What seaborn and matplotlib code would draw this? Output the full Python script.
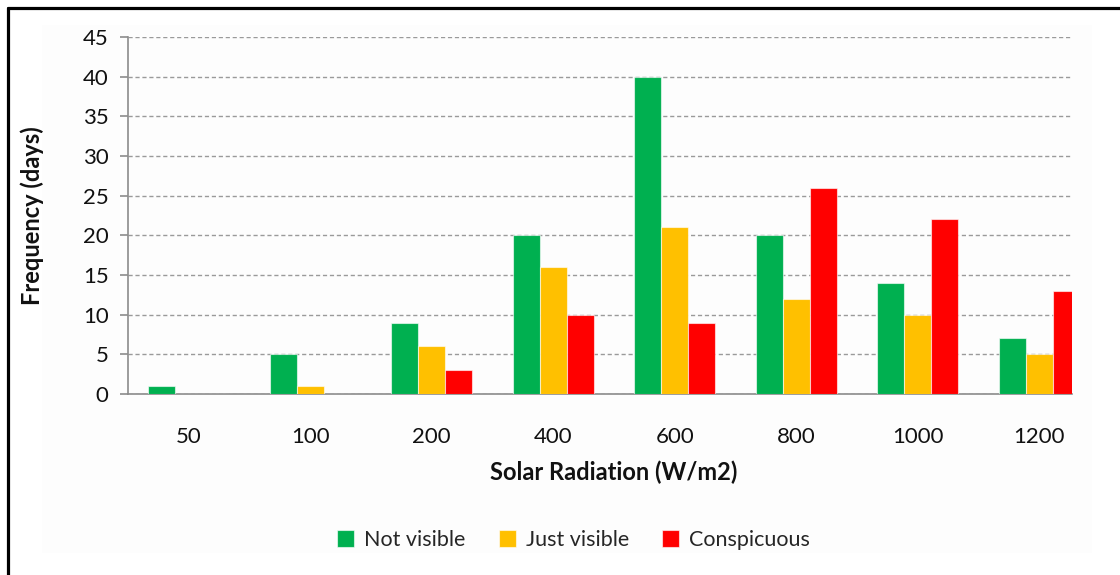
import matplotlib
matplotlib.use("Agg")
import matplotlib.pyplot as plt
import seaborn as sns
import pandas as pd
from matplotlib.lines import Line2D
from matplotlib.patches import Rectangle
from matplotlib.ticker import FixedLocator, MultipleLocator

categories = ["50", "100", "200", "400", "600", "800", "1000", "1200"]
not_visible = [1, 5, 9, 20, 40, 20, 14, 7]
just_visible = [0, 1, 6, 16, 21, 12, 10, 5]
conspicuous = [0, 0, 3, 10, 9, 26, 22, 13]
series_names = ["Not visible", "Just visible", "Conspicuous"]
colors = ["#00B050", "#FFC000", "#FF0000"]

rows = []
for name, vals in zip(series_names, [not_visible, just_visible, conspicuous]):
    for c, v in zip(categories, vals):
        rows.append({"Solar Radiation": c, "Frequency": v, "Series": name})
df = pd.DataFrame(rows)

sns.set_style("white")
plt.rcParams["font.family"] = ["Lato", "DejaVu Sans"]

fig = plt.figure(figsize=(11.2, 5.75), dpi=100)
fig.patch.set_facecolor("white")
# very subtle chart-area background
fig.add_artist(Rectangle((42 / 1120, 1 - 553 / 575), (1092 - 42) / 1120, (553 - 25) / 575,
                         transform=fig.transFigure, facecolor="#fdfdfd", edgecolor="none", zorder=0))
# black border lines (top and left)
fig.add_artist(Line2D([8 / 1120, 1.0], [1 - 8 / 575, 1 - 8 / 575], transform=fig.transFigure,
                      color="black", linewidth=2.3))
fig.add_artist(Line2D([8 / 1120, 8 / 1120], [0, 1 - 8 / 575], transform=fig.transFigure,
                      color="black", linewidth=2.3))

ax = fig.add_axes([128 / 1120, 1 - 394 / 575, (1072 - 128) / 1120, (394 - 37) / 575])
ax.set_facecolor("none")

sns.barplot(data=df, x="Solar Radiation", y="Frequency", hue="Series",
            order=categories, hue_order=series_names, palette=colors, saturation=1,
            width=0.667, gap=0, ax=ax, legend=False,
            edgecolor=(1, 1, 1, 0.6), linewidth=0.8, zorder=3)

ax.set_ylim(0, 45)
ax.set_xlim(-0.5, 7.27)
ax.yaxis.set_major_locator(MultipleLocator(5))
ax.yaxis.grid(True, linestyle=(0, (3, 2)), color="#9a9a9a", linewidth=1.0, zorder=0)
ax.xaxis.grid(False)
ax.set_axisbelow(True)

for s in ["top", "right"]:
    ax.spines[s].set_visible(False)
for s in ["left", "bottom"]:
    ax.spines[s].set_color("#8c8c8c")
    ax.spines[s].set_linewidth(1.2)

ax.xaxis.set_minor_locator(FixedLocator([i - 0.5 for i in range(8)]))
ax.tick_params(axis="x", which="major", length=0, pad=24, labelsize=16, labelcolor="#111111")
ax.tick_params(axis="x", which="minor", length=6, width=1.2, color="#8c8c8c", direction="out")
ax.tick_params(axis="y", which="major", length=6, width=1.2, color="#8c8c8c", direction="out",
               pad=8, labelsize=16, labelcolor="#111111", left=True)

ax.set_xlabel("Solar Radiation (W/m2)", fontsize=17, fontweight="bold", color="#111111")
ax.xaxis.set_label_coords(0.515, -0.185)
ax.set_ylabel("Frequency (days)", fontsize=17, fontweight="bold", color="#111111")
ax.yaxis.set_label_coords(-0.089, 0.5)

handles = [Rectangle((0, 0), 1, 1, facecolor=c, edgecolor=(1, 1, 1, 0.6), linewidth=0.8) for c in colors]
fig.legend(handles, series_names, loc="center", bbox_to_anchor=(0.512, 1 - 540 / 575),
           ncol=3, frameon=False, fontsize=15.5, handlelength=0.8, handleheight=0.8,
           handletextpad=0.45, columnspacing=1.55)

fig.savefig("out.png", dpi=100, facecolor="white")
